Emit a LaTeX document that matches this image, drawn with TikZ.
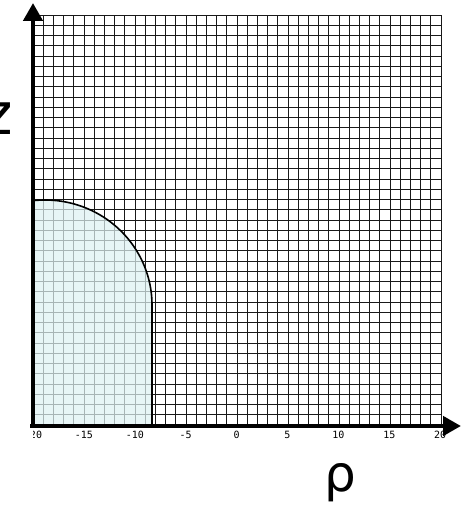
\documentclass[tikz,border=0pt]{standalone}
\usepackage{fontspec}
\setmainfont{DejaVu Sans}
\newfontfamily\tickfont{DejaVu Sans Mono}
\usetikzlibrary{arrows.meta}
\definecolor{domecolor}{RGB}{222,241,242}
\tikzset{
  gridline/.style={line width=0.9pt, black!90},
  axisline/.style={line width=4.6pt, black, -{Triangle[width=19pt,length=18pt]}},
  ticklabel/.style={font=\tickfont\fontsize{10}{10}\selectfont, inner sep=0pt, anchor=base},
  biglabel/.style={inner sep=0pt}
}
\begin{document}
\begin{tikzpicture}[x=1pt,y=1pt]
\useasboundingbox (0,0) rectangle (461,510);
% grid
\foreach \i in {0,...,40} {
  \draw[gridline] ({33+\i*10.2},85) -- ({33+\i*10.2},495);
  \draw[gridline] (33,{85+\i*10.25}) -- (441,{85+\i*10.25});
}
% shaded region
\fill[domecolor, opacity=0.72] (152,85) -- (152,205) arc[start angle=0, end angle=97, x radius=107, y radius=105] -- (33,85) -- cycle;
\draw[line width=1.6pt, black] (152,85) -- (152,205) arc[start angle=0, end angle=97, x radius=107, y radius=105];
% tick labels
\begin{scope}
\clip (33,60) rectangle (461,85);
\foreach \v [count=\k from 0] in {-20,-15,-10,-5,0,5,10,15,20} {
  \node[ticklabel] (t\k) at ({33+\k*50.9},71) {\v};
}
\end{scope}
% axes
\coordinate (o) at (33,82);
\coordinate (ytip) at (33,507);
\coordinate (xo) at (30,84);
\coordinate (xtip) at (461,84);
\draw[axisline] (o) -- (ytip);
\draw[axisline] (xo) -- (xtip);
% axis labels
\node[biglabel, anchor=base east, font=\fontsize{58}{58}\selectfont] (zl) at (13,375) {z};
\node[biglabel, anchor=base, font=\fontsize{50}{50}\selectfont] (rl) at (340,18) {ρ};
\end{tikzpicture}
\end{document}
